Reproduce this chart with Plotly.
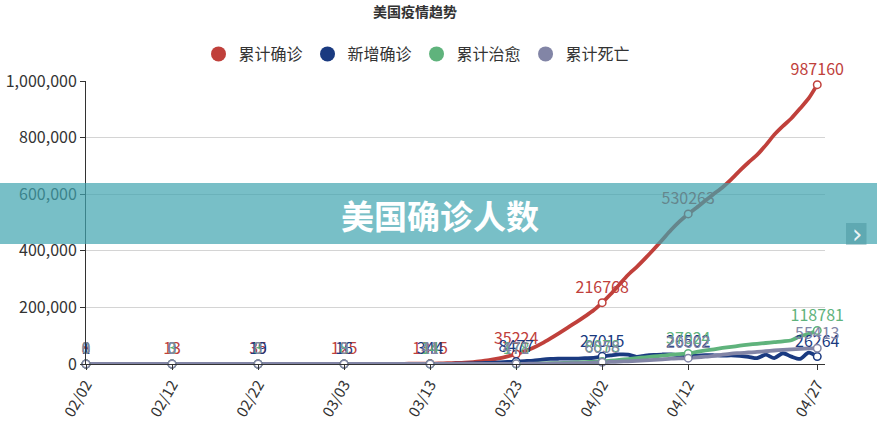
import pandas as pd
import plotly.graph_objects as go

dates = list(pd.date_range("2020-02-02", "2020-04-27").strftime("%m/%d"))

series_names = ["累计确诊", "新增确诊", "累计治愈", "累计死亡"]

confirmed = [
    8, 11, 11, 12, 12, 12, 12, 12, 12, 13, 13, 14, 14, 14, 14, 14, 14, 14, 14, 16,
    35, 35, 53, 53, 59, 60, 62, 70,
    76, 109, 125, 158, 221, 319, 435, 541, 600, 740, 870, 1001, 1345, 1950, 2700,
    3500, 4700, 7000, 10400, 14250, 19600, 26747, 35224, 45424, 57324, 72924,
    90724, 109424, 128724, 147724, 168224,
    189753, 216768, 247268, 281168, 314368, 342468, 373268, 405668, 439168,
    473368, 503761, 530263, 553000, 577500, 601200, 624800, 652600, 683400,
    712100, 738800, 772500, 809900, 840300, 868500, 902600, 938400, 987160,
]

new_confirmed = [
    1, 3, 0, 1, 0, 0, 0, 0, 0, 1, 0, 1, 0, 0, 0, 0, 0, 0, 0, 2,
    19, 0, 18, 0, 6, 1, 2, 8,
    6, 33, 16, 33, 63, 98, 116, 106, 59, 140, 130, 131, 344, 605, 750,
    800, 1200, 2300, 3400, 3850, 5350, 7147, 8477, 10200, 11900, 15600,
    17800, 18700, 19300, 19000, 20500,
    21529, 27015, 30500, 33900, 33200, 25100, 29800, 32400, 33500,
    34200, 30393, 26502, 29900, 31500, 30800, 29600, 30200, 28800,
    25500, 20500, 33000, 21000, 38000, 26000, 18000, 40000, 26264,
]

cured = [
    0, 0, 0, 0, 0, 0, 0, 0, 0, 3, 3, 3, 3, 3, 3, 3, 3, 3, 3, 3,
    3, 3, 3, 3, 3, 3, 3, 6,
    7, 7, 8, 8, 8, 8, 8, 8, 8, 8, 8, 12, 14, 15, 17,
    17, 17, 106, 108, 147, 171, 176, 178, 361, 681, 1864,
    2612, 3148, 4076, 5220, 6921,
    7141, 8878, 11500, 14652, 17448, 20581, 23763, 26559, 29410,
    32790, 35270, 37024, 42820, 47763, 52096, 56618, 60545, 64840,
    68337, 71329, 74204, 77366, 80203, 84079, 97988, 106424, 118781,
]

deaths = [
    0, 0, 0, 0, 0, 0, 0, 0, 0, 0, 0, 0, 0, 0, 0, 0, 0, 0, 0, 0,
    0, 0, 0, 0, 0, 0, 0, 1,
    1, 6, 9, 11, 12, 15, 19, 22, 26, 30, 37, 40, 41, 50, 60,
    85, 108, 150, 207, 258, 327, 418, 471, 684, 942, 1209,
    1581, 2026, 2467, 2978, 3873,
    4757, 6058, 7159, 8452, 9619, 10941, 12857, 14788, 16686,
    18693, 19702, 20602, 23529, 25832, 28326, 32917, 36773, 38664,
    40661, 42514, 45086, 47676, 49954, 51949, 53755, 54881, 55413,
]

label_idx = [0, 10, 20, 30, 40, 50, 60, 70, 85]
tick_labels = [dates[i] for i in label_idx]

colors = ["#c0403b", "#1a3a80", "#5fb37c", "#8285a6"]
all_series = [confirmed, new_confirmed, cured, deaths]
for s in all_series:
    assert len(s) == len(dates), len(s)

FONT = "Noto Sans CJK SC"
fig = go.Figure()

# lines
for name, vals, col in zip(series_names, all_series, colors):
    fig.add_trace(go.Scatter(
        x=dates, y=vals, mode="lines", name=name, legendgroup=name,
        showlegend=False,
        line=dict(color=col, width=3.8, shape="spline", smoothing=0.7),
        hoverinfo="skip",
    ))

# markers + labels
for name, vals, col in zip(series_names, all_series, colors):
    fig.add_trace(go.Scatter(
        x=[dates[i] for i in label_idx], y=[vals[i] for i in label_idx],
        mode="markers+text", legendgroup=name, showlegend=False,
        text=[str(vals[i]) for i in label_idx], textposition="top center",
        textfont=dict(color=col, size=16, family=FONT),
        marker=dict(symbol="circle", size=7.5, color="white",
                    line=dict(color=col, width=1.5)),
        cliponaxis=False, hoverinfo="skip",
    ))

# legend entries
for name, col in zip(series_names, colors):
    fig.add_trace(go.Scatter(
        x=[None], y=[None], mode="markers", name=name, legendgroup=name,
        marker=dict(symbol="circle", size=15, color=col),
    ))

L, R, T, B = 86, 52, 81, 64
W, H = 877, 428
pw, ph = W - L - R, H - T - B

def px(xp):
    return (xp - L) / pw

def py(yp):
    return (H - B - yp) / ph

fig.update_layout(
    width=W, height=H,
    margin=dict(l=L, r=R, t=T, b=B, pad=0, autoexpand=False),
    paper_bgcolor="white", plot_bgcolor="white",
    font=dict(family=FONT, color="#333333"),
    title=dict(text="<b>美国疫情趋势</b>", x=415 / W, xanchor="center",
               xref="container",
               y=1 - 12 / H, yanchor="middle",
               font=dict(size=14, color="#333333", family=FONT)),
    legend=dict(orientation="h", x=px(417), xanchor="center",
                y=py(54), yanchor="middle",
                font=dict(size=16, color="#333333", family=FONT),
                itemclick=False, itemdoubleclick=False,
                tracegroupgap=0, itemwidth=30,
                bgcolor="rgba(0,0,0,0)"),
    showlegend=True,
    xaxis=dict(
        type="category", range=[0, 85.9], automargin=False,
        tickmode="array", tickvals=tick_labels, ticktext=tick_labels,
        tickangle=-60, tickfont=dict(size=15, color="#333333", family=FONT),
        showgrid=False, zeroline=False,
        showline=True, linecolor="#333333", linewidth=1,
        ticks="outside", ticklen=5, tickcolor="#333333",
    ),
    yaxis=dict(
        range=[0, 1000000], tickmode="array", automargin=False,
        tickvals=[0, 200000, 400000, 600000, 800000, 1000000],
        tickformat=",d",
        tickfont=dict(size=16, color="#333333", family=FONT),
        showgrid=True, gridcolor="#d4d4d4", gridwidth=1,
        zeroline=False,
        showline=True, linecolor="#333333", linewidth=1,
        ticks="outside", ticklen=5, tickcolor="#333333",
    ),
    hovermode=False,
)

# teal banner overlay
fig.add_shape(type="rect", xref="paper", yref="paper",
              x0=px(-5), x1=px(W + 5), y0=py(244), y1=py(183),
              fillcolor="rgba(62,164,175,0.7)", line=dict(width=0),
              layer="above")
fig.add_shape(type="rect", xref="paper", yref="paper",
              x0=px(846), x1=px(866.5), y0=py(245), y1=py(223),
              fillcolor="rgba(50,130,140,0.35)", line=dict(width=0),
              layer="above")
fig.add_annotation(xref="paper", yref="paper", x=px(439.5), y=py(215),
                   text="<b>美国确诊人数</b>", showarrow=False,
                   font=dict(size=33, color="white", family=FONT),
                   xanchor="center", yanchor="middle")
fig.add_annotation(xref="paper", yref="paper", x=px(856.5), y=py(234),
                   text="›", showarrow=False,
                   font=dict(size=26, color="rgba(255,255,255,0.9)",
                             family="DejaVu Sans"),
                   xanchor="center", yanchor="middle")

fig.write_html(
    "out.html",
    config={"displayModeBar": False},
    post_script="document.body.style.margin='0';document.body.style.padding='0';",
)
